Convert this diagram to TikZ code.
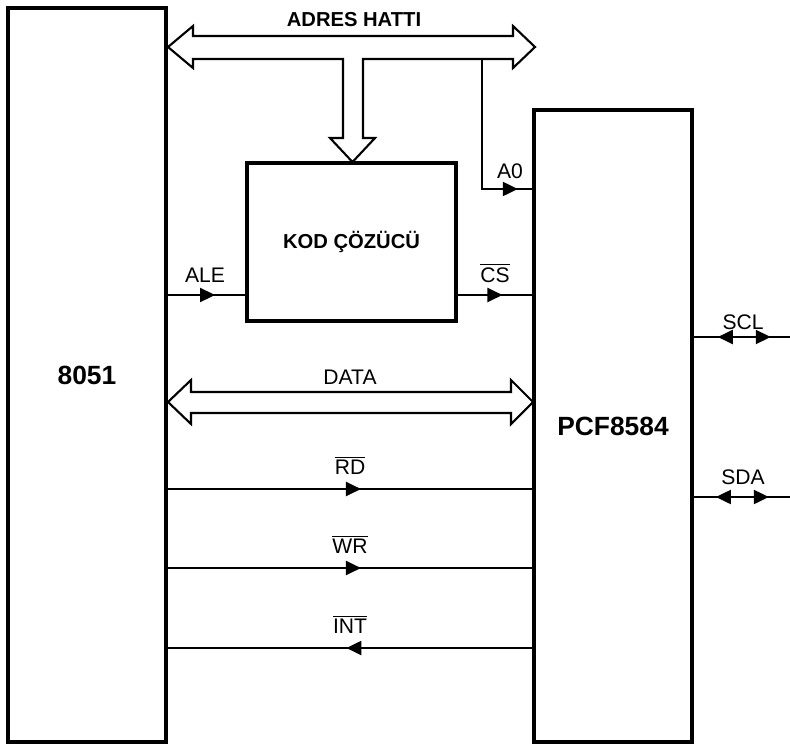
\documentclass[tikz,border=0pt]{standalone}
\usepackage{fontspec}
\setmainfont{Liberation Sans}
\usetikzlibrary{arrows.meta,decorations.markings}
\tikzset{sigtip/.tip={Triangle[length=0.3cm, width=0.28cm]}}

\begin{document}
\begin{tikzpicture}[x=0.02cm, y=-0.02cm,
    every node/.style={font=\fontsize{12}{14}\selectfont, inner sep=0pt},
    box/.style={draw, line width=2pt},
    chip/.style={font=\fontsize{15}{17}\selectfont\bfseries},
    boldlbl/.style={font=\fontsize{11.5}{13}\selectfont\bfseries},
    lbl/.style={anchor=base},
    sig/.style={line width=1.2pt},
    bus/.style={draw, line width=1.2pt, line join=miter},
    fwd/.style={postaction={decorate}, decoration={markings, mark=at position #1 with {\arrow{sigtip}}}},
    bidir/.style 2 args={postaction={decorate}, decoration={markings,
        mark=at position #1 with {\arrowreversed{sigtip}}, mark=at position #2 with {\arrow{sigtip}}}}]
  \useasboundingbox (0,0) rectangle (790,747);
  % blocks
  \node[box, chip, minimum width=3.16cm, minimum height=14.68cm] (mcu) at (87,375) {8051};
  \node[box, chip, minimum width=3.16cm, minimum height=12.64cm] (pcf) at (613,426) {PCF8584};
  \node[box, boldlbl, minimum width=4.18cm, minimum height=3.16cm] (kod) at (351.5,242) {KOD ÇÖZÜCÜ};
  % signal rows
  \coordinate (yA0) at (0,189); \coordinate (yALE) at (0,295);
  \coordinate (yRD) at (0,489); \coordinate (yWR) at (0,568); \coordinate (yINT) at (0,648);
  \coordinate (ySCL) at (0,337); \coordinate (ySDA) at (0,497);
  \coordinate (a0top) at (482,59);
  \coordinate (sclend) at (790,337); \coordinate (sdaend) at (790,497);
  % address bus with branch down to the decoder
  \draw[bus] (168,47) -- (193,26) -- (193,36) -- (513,36) -- (513,26) -- (535,47) -- (513,68) -- (513,59)
    -- (363,59) -- (363,138) -- (375,138) -- (352.5,162) -- (330,138) -- (343,138) -- (343,59)
    -- (193,59) -- (193,68) -- cycle;
  \node[boldlbl, lbl] (adres) at (354,27) {ADRES HATTI};
  % data bus
  \draw[bus] (168,402) -- (191,380) -- (191,392) -- (511,392) -- (511,380) -- (533,402) -- (511,424)
    -- (511,413) -- (191,413) -- (191,424) -- cycle;
  \node[lbl] (data) at (350,384) {DATA};
  % control lines
  \draw[sig, fwd=0.92] (a0top) |- (pcf.west |- yA0);
  \node[lbl] (a0) at (510,178) {A0};
  \draw[sig, fwd=0.61] (mcu.east |- yALE) -- (kod.west |- yALE);
  \node[lbl] (ale) at (205,282) {ALE};
  \draw[sig, fwd=0.6] (kod.east |- yALE) -- (pcf.west |- yALE);
  \node[lbl] (cs) at (495,282) {$\overline{\mbox{CS}}$};
  \draw[sig, fwd=0.53] (mcu.east |- yRD) -- (pcf.west |- yRD);
  \node[lbl] (rd) at (350,474) {$\overline{\mbox{RD}}$};
  \draw[sig, fwd=0.53] (mcu.east |- yWR) -- (pcf.west |- yWR);
  \node[lbl] (wr) at (350,553) {$\overline{\mbox{WR}}$};
  \draw[sig, fwd=0.51] (pcf.west |- yINT) -- (mcu.east |- yINT);
  \node[lbl] (int) at (350,633) {$\overline{\mbox{INT}}$};
  % I2C side
  \draw[sig, bidir={0.25}{0.8}] (pcf.east |- ySCL) -- (sclend);
  \node[lbl] (scl) at (743,329) {SCL};
  \draw[sig, bidir={0.23}{0.78}] (pcf.east |- ySDA) -- (sdaend);
  \node[lbl] (sda) at (743,484) {SDA};
\end{tikzpicture}
\end{document}
